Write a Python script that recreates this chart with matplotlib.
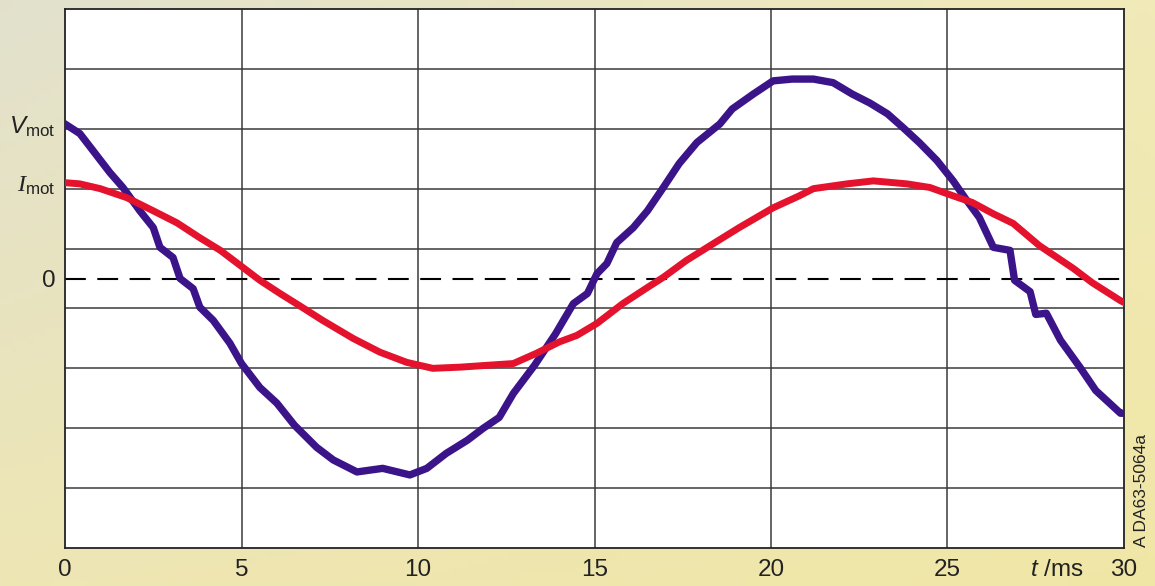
import matplotlib
matplotlib.use("Agg")
import matplotlib.pyplot as plt
import matplotlib.transforms as mtransforms
import numpy as np

plt.rcParams['font.family'] = ['Liberation Sans', 'DejaVu Sans']
plt.rcParams['mathtext.fontset'] = 'custom'
plt.rcParams['mathtext.rm'] = 'Liberation Sans'
plt.rcParams['mathtext.it'] = 'Liberation Sans:italic'
plt.rcParams['mathtext.cal'] = 'Liberation Serif:italic'

# motor voltage, sampled off the scope trace (t in ms, value in divisions)
t_v = [0.0, 0.42, 0.8, 1.27, 1.64, 2.12, 2.5, 2.69, 3.06, 3.26, 3.63, 3.82, 4.2,
       4.67, 5.0, 5.52, 6.0, 6.5, 7.13, 7.6, 8.27, 9.0, 9.77, 10.25, 10.8, 11.4,
       11.85, 12.3, 12.7, 13.3, 13.9, 14.4, 14.8, 15.07, 15.35, 15.63, 16.1, 16.5,
       16.95, 17.4, 17.9, 18.55, 18.9, 19.5, 20.06, 20.6, 21.2, 21.76, 22.3, 22.8,
       23.3, 23.74, 24.2, 24.7, 25.16, 25.55, 25.9, 26.3, 26.77, 26.9, 27.34, 27.5,
       27.8, 28.2, 28.75, 29.2, 29.9, 30.0]
v_mot = [2.58, 2.42, 2.13, 1.77, 1.52, 1.13, 0.85, 0.52, 0.35, 0.0, -0.17, -0.48, -0.7,
         -1.08, -1.42, -1.82, -2.08, -2.45, -2.82, -3.03, -3.23, -3.17, -3.28, -3.17, -2.92, -2.7,
         -2.5, -2.32, -1.92, -1.45, -0.92, -0.42, -0.25, 0.08, 0.25, 0.6, 0.85, 1.13,
         1.52, 1.92, 2.27, 2.58, 2.83, 3.08, 3.3, 3.33, 3.33, 3.27, 3.08, 2.93,
         2.75, 2.52, 2.27, 1.97, 1.63, 1.3, 1.02, 0.52, 0.47, -0.03, -0.22, -0.6,
         -0.58, -1.03, -1.48, -1.87, -2.25, -2.25]

# motor current
t_i = [0.0, 0.42, 1.0, 1.75, 2.5, 3.17, 3.82, 4.4, 4.96, 5.52, 6.09, 6.66, 7.3,
       8.16, 8.92, 9.68, 10.42, 11.2, 11.95, 12.7, 13.35, 14.0, 14.5, 15.07, 15.8,
       16.5, 16.95, 17.6, 18.36, 19.1, 20.06, 20.8, 21.2, 22.15, 22.9, 23.85, 24.5,
       25.16, 25.7, 26.3, 26.86, 27.6, 28.56, 29.1, 29.9, 30.0]
i_mot = [1.6, 1.58, 1.5, 1.35, 1.13, 0.93, 0.68, 0.47, 0.22, -0.03, -0.25, -0.46, -0.7,
         -1.0, -1.23, -1.4, -1.5, -1.48, -1.45, -1.42, -1.25, -1.06, -0.95, -0.75, -0.42,
         -0.15, 0.02, 0.3, 0.58, 0.85, 1.18, 1.38, 1.5, 1.58, 1.63, 1.58, 1.52,
         1.38, 1.27, 1.08, 0.92, 0.55, 0.17, -0.07, -0.37, -0.4]

x_ticks = [0, 5, 10, 15, 20, 25, 30]
x_labels = ["0", "5", "10", "15", "20", "25", "30"]
grid_rows = [-3.5, -2.5, -1.5, -0.5, 0.5, 1.5, 2.5, 3.5]

fig = plt.figure(figsize=(11.55, 5.86), dpi=100)

# pale yellow backdrop, greyer towards the top left
bg = fig.add_axes([0, 0, 1, 1], zorder=-10)
gx, gy = np.meshgrid(np.linspace(0, 1, 200), np.linspace(0, 1, 100))
tl = np.array([0.886, 0.882, 0.804])
tr = np.array([0.945, 0.918, 0.722])
bl = np.array([0.933, 0.902, 0.706])
br = np.array([0.941, 0.902, 0.651])
img = ((1 - gx)[..., None] * (1 - gy)[..., None] * tl + gx[..., None] * (1 - gy)[..., None] * tr
       + (1 - gx)[..., None] * gy[..., None] * bl + gx[..., None] * gy[..., None] * br)
bg.imshow(img, aspect='auto', extent=[0, 1, 0, 1], origin='upper')
bg.axis('off')

ax = fig.add_axes([65 / 1155, 1 - 548 / 586, (1124 - 65) / 1155, (548 - 9) / 586])
ax.set_facecolor('white')
ax.set_xlim(0, 30)
ax.set_ylim(-4.5, 4.5)

for x in x_ticks[1:-1]:
    ax.axvline(x, color='#3a3a3a', lw=1.1, zorder=1)
for y in grid_rows:
    ax.axhline(y, color='#3a3a3a', lw=1.1, zorder=1)
ax.axhline(0, color='black', lw=1.5, linestyle=(0, (10, 5.5)), zorder=1)

ax.plot(t_v, v_mot, color='#3b1489', lw=5.3, solid_joinstyle='round', zorder=3)
ax.plot(t_i, i_mot, color='#e4122c', lw=5, solid_joinstyle='round', zorder=4)

for s in ax.spines.values():
    s.set_color('#222222')
    s.set_linewidth(1.3)

ax.set_xticks(x_ticks)
ax.set_xticklabels(x_labels)
ax.set_yticks([v_mot[0], i_mot[0], 0])
ax.set_yticklabels([r"$V_{\mathrm{mot}}$", r"$\mathcal{I}_{\mathrm{mot}}$", "0"])
ax.tick_params(axis='both', length=0, labelsize=17.5, colors='#222222')
ax.tick_params(axis='x', pad=8)
ax.tick_params(axis='y', pad=7)

trans = mtransforms.blended_transform_factory(ax.transData, ax.transAxes)
ax.annotate(r"$t$ /ms", xy=(28.1, 0), xycoords=trans, xytext=(0, -8),
            textcoords='offset points', ha='center', va='top', fontsize=17.5, color='#222222')

fig.text(1142 / 1155, 1 - 547 / 586, "A DA63-5064a", rotation=90, ha='center', va='bottom',
         fontsize=12.5, color='#222222')

fig.savefig("out.png", dpi=100)
